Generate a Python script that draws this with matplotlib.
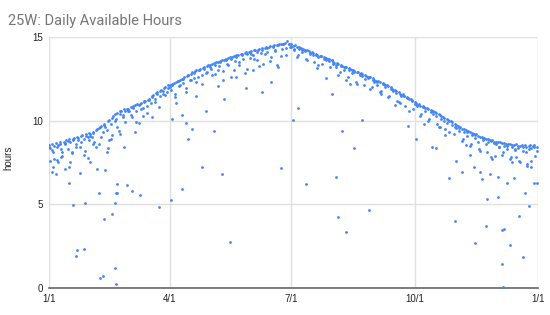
import matplotlib.pyplot as plt
import numpy as np

# daily available hours (day of year -> hours)
month_start = [0, 31, 59, 90, 120, 151, 181, 212, 243, 273, 304, 334]

# one reading per day
hours_a = [
    [8.55, 8.38, 8.60, 8.12, 8.47, 8.66, 7.62, 8.52, 8.70, 8.28, 7.88, 8.75, 8.61, 8.82, 8.30, 8.88,
     8.74, 8.05, 8.92, 8.97, 8.58, 9.01, 8.86, 8.44, 9.08, 9.12, 8.90, 8.20, 9.18, 9.05, 9.25],
    [9.22, 9.05, 9.35, 8.70, 9.45, 9.50, 8.62, 9.62, 9.70, 9.30, 9.82, 9.60, 8.15, 9.95, 10.05, 9.80,
     9.15, 10.30, 10.38, 10.10, 10.45, 9.40, 10.55, 10.60, 10.32, 10.68, 9.90, 10.72],
    [10.70, 10.55, 10.82, 10.20, 10.88, 10.95, 10.60, 11.00, 9.85, 11.02, 11.08, 10.75, 11.15, 11.20,
     10.90, 11.25, 11.32, 11.05, 11.45, 11.52, 11.30, 11.65, 11.72, 10.80, 11.78, 11.85, 11.60, 11.95,
     12.02, 11.70, 12.10],
    [12.15, 11.85, 12.20, 12.25, 11.40, 12.30, 12.38, 12.05, 12.45, 12.50, 12.22, 12.58, 11.70, 12.65,
     12.72, 12.40, 12.80, 12.88, 12.55, 12.95, 13.00, 12.60, 13.05, 13.08, 12.20, 13.15, 13.20, 12.85,
     13.28, 13.30],
    [13.35, 13.10, 13.40, 13.45, 12.80, 13.50, 13.52, 13.25, 13.58, 13.60, 12.95, 13.65, 13.70, 13.40,
     13.75, 13.78, 12.60, 13.82, 13.85, 13.55, 13.90, 13.92, 13.30, 13.98, 14.00, 13.70, 14.05, 14.08,
     13.10, 14.10, 14.12],
    [14.15, 13.90, 14.20, 14.22, 13.60, 14.25, 14.30, 14.05, 14.32, 13.40, 14.35, 14.38, 14.10, 14.42,
     14.45, 13.80, 14.48, 14.50, 14.20, 14.52, 13.20, 14.55, 14.58, 14.30, 14.60, 14.62, 13.95, 14.75,
     14.55, 14.40],
    [14.55, 14.45, 14.30, 14.50, 14.40, 13.90, 14.38, 14.35, 14.20, 14.28, 14.25, 13.70, 14.20, 14.15,
     14.00, 14.10, 14.05, 13.50, 14.00, 13.95, 13.80, 13.88, 13.85, 13.40, 13.80, 13.75, 13.60, 13.70,
     13.68, 13.20, 13.62],
    [13.50, 13.45, 13.30, 13.42, 13.38, 12.90, 13.32, 13.28, 13.20, 13.22, 13.18, 12.60, 13.12, 13.08,
     13.00, 13.02, 12.98, 12.30, 12.92, 12.88, 12.80, 12.82, 12.78, 12.10, 12.72, 12.68, 12.60, 12.62,
     12.58, 12.00, 12.52],
    [12.42, 12.38, 12.30, 12.35, 12.28, 11.80, 12.22, 12.18, 12.10, 12.12, 12.05, 11.50, 11.98, 11.90,
     11.82, 11.85, 11.78, 11.20, 11.70, 11.62, 11.55, 11.58, 11.48, 10.90, 11.42, 11.38, 11.30, 11.32,
     11.25, 10.70],
    [11.12, 11.05, 10.95, 11.00, 10.90, 10.40, 10.88, 10.82, 10.75, 10.78, 10.70, 10.10, 10.65, 10.60,
     10.55, 10.50, 10.45, 9.80, 10.38, 10.32, 10.25, 10.20, 10.15, 9.50, 10.08, 10.02, 9.95, 9.98,
     9.90, 9.20, 9.82],
    [9.72, 9.65, 9.55, 9.60, 9.50, 8.90, 9.48, 9.42, 9.35, 9.38, 9.30, 8.60, 9.28, 9.22, 9.15, 9.20,
     9.10, 8.30, 9.05, 9.00, 8.95, 8.98, 8.92, 8.10, 8.90, 8.85, 8.78, 8.82, 8.75, 7.90],
    [8.75, 8.70, 8.40, 8.72, 8.65, 8.10, 8.68, 8.60, 8.50, 8.62, 8.58, 7.80, 8.55, 8.52, 8.30, 8.58,
     8.50, 7.60, 8.48, 8.55, 8.20, 8.52, 8.45, 7.40, 8.50, 8.55, 8.35, 8.48, 8.52, 7.90, 8.45],
]

# second reading every other day
hours_b = [
    [8.45, 8.25, 7.70, 8.42, 8.58, 8.10, 8.65, 8.78, 7.55, 8.85, 8.40, 8.95, 8.70, 7.95, 9.10, 8.85],
    [9.10, 9.25, 8.40, 9.55, 9.05, 9.75, 9.45, 8.85, 10.15, 9.95, 9.60, 10.40, 10.20, 10.55],
    [10.60, 10.35, 10.78, 9.90, 10.95, 10.70, 11.10, 10.45, 11.22, 11.40, 11.10, 11.60, 11.45, 11.80,
     11.55, 11.95],
    [12.00, 12.10, 11.60, 12.35, 12.15, 12.50, 11.95, 12.70, 12.45, 12.85, 12.30, 13.00, 12.75, 13.10,
     12.90],
    [13.20, 12.70, 13.35, 13.00, 13.50, 12.40, 13.60, 13.35, 13.70, 13.05, 13.80, 13.50, 13.90, 12.85,
     14.00, 13.75],
    [14.00, 13.70, 14.10, 13.25, 14.25, 14.00, 14.35, 13.55, 14.40, 14.15, 14.50, 13.85, 14.55, 14.35,
     14.60],
    [14.40, 14.20, 13.80, 14.30, 14.10, 14.15, 13.60, 14.05, 13.90, 13.95, 13.30, 13.85, 13.70, 13.75,
     13.55, 13.65],
    [13.40, 13.20, 12.70, 13.25, 13.05, 12.40, 13.00, 12.85, 12.90, 12.20, 12.75, 12.65, 12.50, 12.55,
     11.90, 12.45],
    [12.30, 12.15, 11.70, 12.20, 12.00, 11.40, 11.90, 11.75, 11.65, 11.10, 11.50, 11.45, 11.35, 10.60,
     11.20],
    [11.00, 10.85, 10.30, 10.80, 10.60, 10.00, 10.50, 10.40, 10.30, 9.60, 10.10, 10.00, 9.85, 9.35,
     9.75, 9.60],
    [9.55, 9.40, 8.80, 9.30, 9.10, 8.50, 9.15, 8.95, 8.70, 8.20, 8.85, 8.60, 8.75, 7.80, 8.65],
    [8.60, 8.40, 7.95, 8.50, 8.30, 7.70, 8.45, 8.25, 8.35, 7.50, 8.40, 8.15, 8.30, 7.20, 8.40, 8.20],
]

# low days (cloudy) as (day, hours)
low_days = [1, 3, 5, 7, 2, 12, 15, 15, 18, 20, 21, 23, 26, 27, 31, 36, 37, 38, 40, 41, 42, 47, 49, 49,
            50, 50, 51, 51, 58, 62, 68, 82, 91, 92, 99, 99, 102, 104, 107, 114, 123, 129, 131, 135,
            147, 159, 166, 173, 182, 186, 192, 211, 214, 216, 219, 222, 228, 234, 239, 268, 274, 286,
            289, 299, 303, 304, 308, 317, 318, 322, 323, 326, 327, 329, 335, 335, 338, 338, 339, 340,
            342, 344, 347, 351, 354, 355, 358, 362, 364,
            9, 17, 29, 33, 44, 46, 53, 56, 64, 70, 77, 95, 110, 117, 126, 140, 152, 170, 200, 207,
            225, 248, 258, 262, 280, 292, 296, 311, 314, 331, 346, 349, 357, 360]
low_hours = [7.60, 7.20, 6.80, 7.55, 6.95, 7.10, 6.25, 7.24, 4.94, 1.90, 2.25, 6.90, 2.35, 5.10, 7.50,
             7.12, 5.70, 0.62, 0.70, 4.14, 7.08, 4.40, 1.17, 5.10, 0.26, 5.67, 5.70, 6.20, 6.13, 5.77,
             5.53, 4.84, 5.25, 10.07, 5.90, 10.33, 9.83, 8.93, 9.51, 7.20, 9.41, 6.83, 11.30, 2.75,
             11.94, 11.72, 12.32, 7.16, 10.03, 10.76, 6.20, 11.62, 6.63, 4.24, 9.41, 3.36, 8.34, 10.03,
             4.66, 9.69, 8.90, 8.40, 8.36, 6.60, 4.00, 7.58, 6.96, 7.24, 2.70, 6.96, 6.50, 3.70, 5.30,
             6.83, 5.43, 6.65, 3.46, 1.41, 0.06, 3.50, 6.30, 2.55, 6.60, 4.30, 1.83, 5.65, 4.91, 6.30,
             6.30,
             7.85, 8.10, 7.75, 8.60, 8.35, 8.90, 9.20, 8.45, 9.35, 10.30, 10.20, 11.05, 11.50, 10.60,
             12.05, 12.60, 13.05, 13.30, 13.15, 12.55, 12.20, 11.60, 10.95, 11.05, 9.80, 9.60, 9.15,
             8.55, 7.95, 7.70, 7.55, 7.85, 7.30, 7.60]

tick_days = [0, 90, 181, 273, 365]
tick_labels = ["1/1", "4/1", "7/1", "10/1", "1/1"]


def flatten(month_lists, step):
    days, vals = [], []
    for start, vs in zip(month_start, month_lists):
        for i, v in enumerate(vs):
            days.append(start + i * step)
            vals.append(v)
    return days, vals


da, ha = flatten(hours_a, 1)
db, hb = flatten(hours_b, 2)
days = np.array(da + db + low_days)
hours = np.array(ha + hb + low_hours)

plt.rcParams["font.family"] = ["Liberation Sans", "DejaVu Sans"]

fig = plt.figure(figsize=(5.5, 3.15), dpi=100)
ax = fig.add_axes([0.089, 0.0857, 0.889, 0.797])
ax.scatter(days, hours, s=4, color="#4285f4", linewidths=0, zorder=3)

ax.set_xlim(0, 365)
ax.set_ylim(0, 15)
ax.set_xticks(tick_days)
ax.set_xticklabels(tick_labels)
ax.set_yticks([0, 5, 10, 15])
ax.grid(True, color="#e0e0e0", linewidth=1)
ax.set_axisbelow(True)
for side in ["left", "right", "top"]:
    ax.spines[side].set_visible(False)
ax.spines["bottom"].set_color("#666666")
ax.spines["bottom"].set_linewidth(1.2)
ax.tick_params(length=0, labelsize=7, labelcolor="#222222", pad=4)

fig.text(0.016, 0.5, "hours", rotation=90, fontsize=7, color="#222222",
         ha="center", va="center")
fig.text(0.015, 0.955, "25W: Daily Available Hours", fontsize=10.5, color="#757575",
         va="top", ha="left", family=["Roboto", "DejaVu Sans"])

plt.savefig("out.png", dpi=100)
